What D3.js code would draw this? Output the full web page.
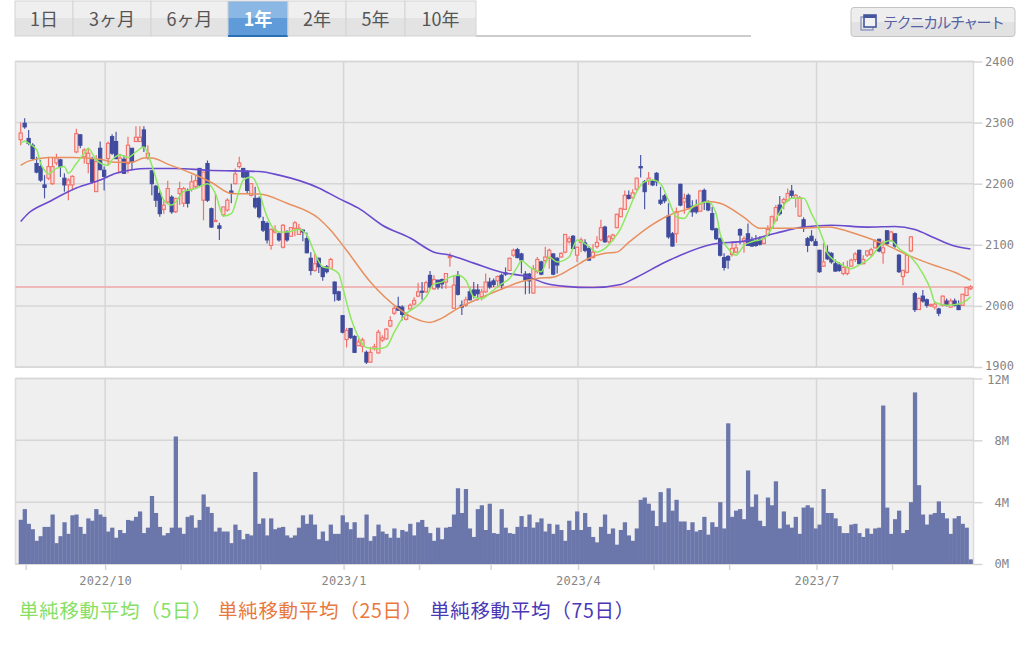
<!DOCTYPE html>
<html>
<head>
<meta charset="utf-8">
<script src="https://cdnjs.cloudflare.com/ajax/libs/d3/7.8.5/d3.min.js"></script>
<style>
html, body { margin: 0; padding: 0; background: #fff; }
svg { display: block; }
.jp { font-family: "Noto Sans CJK JP", sans-serif; }
.mono { font-family: "DejaVu Sans Mono", monospace; }
</style>
</head>
<body>
<div id="plot"></div>
<script>
// Tabs and labels
const tabLabels = ["1日", "3ヶ月", "6ヶ月", "1年", "2年", "5年", "10年"];
const activeTab = "1年";
const tabEdges = [15, 73, 151, 228, 288, 346, 405, 476];
const buttonLabel = "テクニカルチャート";

const priceTicks = [1900, 2000, 2100, 2200, 2300, 2400];
const volumeTicks = [0, 4, 8, 12];
const referencePrice = 2031;

// Trading day index of each month tick, and the labelled ones
const monthTicks = [1, 21, 40, 60, 81, 100, 118, 140, 159, 178, 200, 219];
const monthLabels = new Map([[21, "2022/10"], [81, "2023/1"], [140, "2023/4"], [200, "2023/7"]]);

const legendLabels = ["単純移動平均（5日）", "単純移動平均（25日）", "単純移動平均（75日）"];

// Daily candles, [open, high, low, close]
const candles = [
[2272,2300,2263,2283],[2299,2307,2290,2293],[2274,2288,2263,2266],[2263,2266,2239,2241],[2233,2244,2217,2219],
[2228,2239,2203,2206],[2198,2214,2176,2194],[2209,2244,2206,2228],[2200,2244,2198,2228],[2234,2249,2230,2242],
[2239,2241,2211,2228],[2209,2217,2187,2198],[2198,2209,2173,2206],[2198,2214,2189,2212],[2252,2290,2250,2282],
[2280,2281,2258,2263],[2244,2258,2233,2255],[2233,2259,2217,2250],[2241,2244,2200,2203],
[2187,2247,2187,2236],[2258,2269,2222,2223],[2222,2228,2189,2212],[2241,2269,2230,2266],[2277,2281,2247,2250],
[2269,2285,2240,2241],[2219,2249,2217,2242],[2240,2247,2216,2217],[2233,2277,2217,2263],[2258,2258,2222,2236],
[2269,2294,2269,2276],[2269,2294,2269,2276],[2288,2294,2252,2260],[2243,2263,2239,2250],[2221,2222,2181,2200],
[2196,2198,2162,2173],[2184,2189,2146,2151],[2158,2173,2151,2165],[2170,2205,2168,2192],[2178,2181,2151,2154],
[2154,2177,2152,2176],[2184,2203,2165,2192],[2168,2195,2162,2192],[2189,2192,2161,2168],
[2191,2214,2187,2203],[2195,2214,2192,2205],[2225,2225,2195,2198],[2173,2219,2140,2219],[2233,2238,2170,2173],
[2159,2161,2128,2129],[2138,2184,2138,2140],[2131,2136,2108,2127],[2149,2162,2146,2162],[2157,2176,2154,2173],
[2188,2200,2168,2184],[2200,2225,2199,2216],[2228,2244,2225,2234],[2225,2225,2209,2211],[2219,2222,2184,2189],
[2181,2201,2179,2200],[2176,2195,2159,2162],[2176,2179,2143,2146],[2138,2146,2121,2124],[2135,2138,2102,2108],
[2099,2127,2092,2125],[2121,2132,2118,2124],[2118,2121,2105,2108],[2096,2134,2094,2132],[2121,2124,2105,2108],
[2114,2129,2113,2128],[2127,2139,2114,2136],[2117,2134,2116,2127],[2124,2125,2106,2121],[2110,2120,2086,2087],
[2078,2088,2050,2058],[2058,2086,2056,2069],[2078,2079,2054,2064],[2063,2064,2041,2048],[2064,2067,2053,2056],
[2061,2079,2060,2076],[2039,2040,2007,2020],[2023,2025,2008,2010],[1984,1985,1955,1957],[1945,1964,1932,1960],
[1963,1964,1946,1948],[1950,1952,1923,1924],[1935,1946,1934,1941],[1934,1948,1924,1944],[1924,1927,1905,1908],
[1908,1933,1907,1924],[1930,1938,1927,1933],[1923,1961,1922,1957],[1944,1952,1941,1948],[1946,1964,1945,1962],
[1967,1983,1965,1976],[1988,2000,1985,1996],[1999,2015,1992,1993],[1998,2001,1976,1986],
[1978,1990,1976,1985],[1995,2004,1994,2001],[2003,2014,2001,2009],[2016,2038,2014,2023],[2024,2039,2010,2023],
[2023,2041,2021,2038],[2050,2057,2028,2031],[2028,2050,2026,2043],[2042,2043,2027,2031],[2043,2045,2028,2036],
[2039,2054,2028,2053],[2079,2087,2064,2081],[1996,2050,1996,2034],[2050,2057,2017,2019],[2001,2009,1985,1998],
[2001,2015,1998,2010],[2023,2030,2009,2010],[2026,2039,2012,2017],[2026,2036,2009,2020],[2015,2028,2009,2023],
[2023,2053,2021,2039],[2039,2046,2028,2031],[2041,2045,2031,2035],[2041,2050,2030,2048],[2050,2053,2026,2034],
[2054,2063,2049,2052],[2058,2079,2057,2078],[2083,2094,2080,2091],[2092,2095,2078,2079],[2085,2087,2053,2075],
[2052,2057,2019,2042],[2052,2054,2020,2041],[2021,2067,2020,2061],[2056,2080,2053,2076],[2072,2074,2050,2052],
[2074,2097,2067,2080],[2078,2094,2061,2091],[2085,2086,2050,2052],[2078,2080,2053,2067],[2080,2088,2079,2086],
[2088,2117,2086,2117],[2105,2114,2102,2110],[2114,2116,2093,2094],[2083,2097,2072,2096],[2104,2112,2088,2108],
[2103,2109,2088,2091],[2094,2097,2074,2075],[2079,2101,2078,2088],[2097,2114,2094,2104],[2108,2141,2106,2128],
[2129,2131,2103,2105],[2105,2116,2102,2113],[2110,2118,2106,2116],[2128,2151,2127,2150],[2146,2161,2145,2159],
[2158,2189,2158,2181],[2181,2189,2174,2176],[2177,2191,2176,2185],[2191,2210,2189,2209],[2228,2247,2210,2226],
[2203,2206,2158,2187],[2205,2219,2198,2209],[2205,2207,2196,2198],[2217,2219,2196,2203],[2173,2195,2165,2168],
[2180,2183,2168,2172],[2147,2168,2110,2113],[2118,2121,2097,2098],[2118,2161,2103,2154],[2199,2200,2163,2165],
[2170,2184,2151,2176],[2181,2184,2158,2161],[2163,2173,2146,2154],[2162,2174,2151,2154],[2155,2190,2154,2188],
[2189,2192,2157,2169],[2170,2173,2155,2157],[2151,2162,2123,2125],[2126,2128,2108,2110],[2110,2112,2081,2083],[2079,2086,2058,2063],
[2081,2083,2061,2075],[2084,2106,2081,2094],[2088,2102,2086,2095],[2125,2127,2101,2116],[2105,2114,2087,2110],
[2118,2135,2098,2099],[2107,2113,2097,2098],[2106,2116,2097,2099],[2109,2114,2099,2101],[2102,2114,2101,2110],
[2116,2132,2114,2125],[2128,2148,2127,2146],[2140,2165,2137,2161],[2165,2180,2148,2151],[2169,2177,2158,2174],
[2173,2192,2170,2184],[2188,2198,2176,2181],[2176,2183,2161,2181],[2147,2180,2146,2177],[2141,2145,2121,2128],
[2110,2113,2088,2099],[2114,2124,2105,2107],[2105,2110,2098,2099],[2091,2092,2054,2056],[2065,2103,2064,2072],
[2088,2099,2075,2077],[2086,2088,2069,2072],[2069,2076,2056,2057],[2067,2072,2056,2058],[2053,2072,2050,2063],
[2053,2074,2050,2063],[2065,2077,2064,2075],[2076,2088,2072,2085],[2091,2092,2068,2069],[2069,2083,2068,2076],
[2083,2091,2080,2090],[2084,2095,2080,2092],[2095,2109,2094,2106],[2109,2110,2088,2090],[2087,2107,2069,2095],
[2123,2124,2099,2102],[2107,2123,2105,2121],[2118,2119,2095,2098],[2083,2085,2054,2056],[2048,2059,2034,2058],
[2055,2085,2053,2083],[2090,2114,2088,2113],[2020,2023,1990,1994],[1994,2014,1994,2012],[2016,2026,2005,2008],
[2010,2012,1997,2001],[2000,2004,1998,2002],[1998,2008,1994,2003],[1995,1997,1983,1988],[2001,2017,1999,2016],[2008,2012,1999,2001],
[1998,2012,1997,2008],[2008,2012,1999,2001],[2001,2009,1993,1994],[2001,2020,2000,2019],[2017,2031,2016,2030],
[2028,2034,2026,2031]
];

// Daily volume, in millions of shares
const volumes = [
2.86,3.55,2.6,2.25,1.5,1.8,2.4,2.4,3.2,1.35,1.8,2.7,1.95,3.15,3.2,2.4,1.95,2.95,2.8,3.55,
3.2,3.05,2.1,2.35,1.7,2.2,2.0,2.85,2.8,3.05,3.4,2.0,2.35,4.4,3.3,2.4,1.85,2.0,2.35,
8.25,2.35,1.95,3.05,3.15,2.35,2.85,4.5,3.7,3.3,2.1,2.35,2.1,2.1,1.35,2.55,2.2,1.6,1.95,
1.85,5.95,2.6,2.95,1.85,2.95,2.25,2.35,2.4,1.85,1.7,1.85,2.35,3.15,2.6,3.2,2.55,1.6,2.1,1.5,
2.55,1.95,
1.95,3.15,2.7,2.25,2.7,1.7,1.7,3.2,1.5,1.8,2.55,2.1,1.95,1.7,2.3,1.7,2.2,2.1,2.6,1.85,
2.7,2.85,2.4,2.0,1.5,2.35,1.6,2.35,2.4,3.2,4.9,3.3,4.85,2.3,1.75,3.55,3.8,2.2,3.9,2.0,
1.95,3.55,2.35,2.0,1.95,2.4,3.1,2.4,3.2,2.35,2.7,2.95,2.1,2.6,1.95,2.55,2.2,1.5,2.8,2.2,
3.4,2.2,3.3,2.4,1.75,1.4,2.4,3.2,1.95,2.3,1.25,2.2,2.7,1.85,1.5,2.3,4.15,4.3,
3.9,3.45,2.45,4.65,2.7,4.9,3.45,4.15,
2.75,2.75,2.2,2.7,2.1,2.2,3.05,1.9,2.7,2.4,4.0,2.3,9.1,3.05,3.45,3.55,2.9,6.05,3.7,4.5,
2.8,2.45,4.3,3.8,5.35,2.3,3.4,2.55,2.35,3.05,1.95,3.65,3.8,3.65,2.3,2.55,4.85,3.3,3.3,
2.95,2.45,2.0,2.0,2.55,2.6,2.0,1.75,2.3,1.95,2.3,2.35,10.25,3.65,1.95,2.9,3.45,2.0,2.2,
4.0,11.1,5.1,3.2,2.55,3.2,3.3,4.05,3.3,2.95,1.95,2.95,3.1,2.6,2.35,0.3
];

// Moving averages at the listed trading days
const ma5Days = [0,1,2,4,5,6,7,9,11,12,14,16,17,19,22,23,25,27,29,31,33,35,36,38,39,41,44,47,49,51,53,55,56,58,60,61,63,65,67,70,72,74,76,78,80,81,83,85,87,90,92,94,96,97,100,102,104,106,108,110,112,114,116,119,121,123,125,126,128,131,133,135,138,140,143,145,147,149,151,153,155,157,159,161,163,165,167,169,171,173,175,176,178,180,182,184,187,189,191,194,197,199,201,202,203,206,209,211,214,216,219,221,224,227,229,230,233,236,238,239];
const ma5Values = [2266,2270,2266,2256,2233,2222,2216,2225,2228,2217,2233,2250,2258,2239,2230,2239,2247,2243,2252,2260,2230,2189,2173,2165,2170,2187,2192,2200,2184,2147,2151,2189,2206,2211,2189,2165,2132,2121,2121,2125,2116,2086,2064,2061,2053,2031,1982,1949,1932,1930,1933,1957,1979,1987,2001,2015,2036,2039,2047,2050,2042,2015,2012,2026,2036,2045,2064,2074,2064,2056,2080,2072,2080,2108,2097,2088,2094,2108,2127,2157,2187,2203,2206,2200,2173,2146,2143,2162,2168,2170,2151,2118,2094,2083,2099,2105,2110,2127,2154,2176,2176,2151,2124,2107,2086,2070,2061,2067,2080,2097,2107,2094,2080,2053,2026,2006,2001,2003,2009,2015];

const ma25Days = [0,2,7,13,20,24,28,31,33,37,43,48,53,60,67,75,78,82,88,95,99,103,106,110,116,122,126,130,134,139,143,147,150,153,158,163,169,173,176,182,186,195,203,211,218,224,230,235,239];
const ma25Values = [2230,2237,2243,2243,2240,2235,2235,2242,2242,2232,2217,2202,2184,2183,2168,2143,2124,2091,2039,1996,1980,1973,1980,1996,2014,2030,2040,2045,2047,2063,2078,2086,2088,2104,2129,2148,2161,2171,2168,2145,2127,2127,2129,2116,2099,2081,2066,2055,2042];

const ma75Days = [0,2,7,14,20,24,32,39,47,60,65,75,80,85,91,98,104,108,114,121,128,132,137,144,151,155,162,166,174,182,190,197,204,213,220,225,230,235,239];
const ma75Values = [2138,2152,2170,2193,2206,2217,2225,2225,2222,2220,2214,2193,2176,2160,2132,2111,2088,2083,2070,2055,2047,2037,2032,2030,2035,2047,2071,2083,2101,2106,2119,2129,2132,2129,2130,2125,2111,2098,2093];

// Constants
const width = 1024;
const height = 646;
const plotLeft = 15.5;
const plotRight = 973.5;
const red = "#f2716a";
const blue = "#3f4c9e";
const green = "#8de860";
const orange = "#e8905f";
const purple = "#6a4bcd";
const gridColour = "#d6d6d6";
const labelColour = "#858585";

// Create the canvas
var svg = d3.select("#plot").append("svg")
    .attr("width", width)
    .attr("height", height)
    .attr("viewBox", `0 0 ${width} ${height}`);

// Gradients for the tabs and the button, and the soft edge of the marks
var defs = svg.append("defs");
function addGradient(id, top, bottom) {
    var g = defs.append("linearGradient").attr("id", id).attr("x1", 0).attr("x2", 0).attr("y1", 0).attr("y2", 1);
    g.append("stop").attr("offset", "50%").attr("stop-color", top);
    g.append("stop").attr("offset", "50%").attr("stop-color", bottom);
}
addGradient("tabGrad", "#efefef", "#e3e3e3");
addGradient("activeGrad", "#8ab7e3", "#5f9bd8");
addGradient("btnGrad", "#eeeeee", "#e2e2e2");
defs.append("filter").attr("id", "soft").append("feGaussianBlur").attr("stdDeviation", 0.35);

// Tab strip
svg.append("rect").attr("x", 476).attr("y", 35).attr("width", 275).attr("height", 2).attr("fill", "#cccccc");
var tabs = svg.selectAll("g.tab").data(tabLabels).enter().append("g").attr("class", "tab");
tabs.append("rect")
    .attr("x", (d, i) => tabEdges[i])
    .attr("y", 1)
    .attr("width", (d, i) => tabEdges[i + 1] - tabEdges[i])
    .attr("height", 35)
    .attr("fill", d => d == activeTab ? "url(#activeGrad)" : "url(#tabGrad)")
    .attr("stroke", "#d4d4d4")
    .attr("stroke-width", 1);
tabs.filter(d => d == activeTab).append("rect")
    .attr("x", tabEdges[3]).attr("y", 35).attr("width", tabEdges[4] - tabEdges[3]).attr("height", 2).attr("fill", "#2b70b5");
tabs.append("text")
    .attr("class", "jp")
    .attr("x", (d, i) => (tabEdges[i] + tabEdges[i + 1]) / 2)
    .attr("y", 26)
    .attr("text-anchor", "middle")
    .attr("font-size", 18)
    .attr("font-weight", d => d == activeTab ? "bold" : "normal")
    .attr("fill", d => d == activeTab ? "#ffffff" : "#555555")
    .text(d => d);

// Chart button
svg.append("rect").attr("x", 851).attr("y", 7.5).attr("width", 164).attr("height", 29).attr("rx", 3)
    .attr("fill", "url(#btnGrad)").attr("stroke", "#c4c4c4");
svg.append("rect").attr("x", 861).attr("y", 17).attr("width", 12).attr("height", 13).attr("fill", "none").attr("stroke", "#7f8bc0").attr("stroke-width", 1.2);
svg.append("rect").attr("x", 864).attr("y", 15).attr("width", 12).attr("height", 12).attr("fill", "#f2f2f2").attr("stroke", "#46569d").attr("stroke-width", 1.6);
svg.append("rect").attr("x", 864).attr("y", 15).attr("width", 12).attr("height", 3).attr("fill", "#46569d");
svg.append("text").attr("class", "jp").attr("x", 883).attr("y", 28).attr("font-size", 15).attr("fill", "#5462a5")
    .attr("textLength", 122).text(buttonLabel);

// Scales
var xBand = d3.scaleBand().domain(d3.range(volumes.length)).range([18.7, 972.5]);
var xMid = i => xBand(i) + xBand.bandwidth() / 2;
var yPrice = d3.scaleLinear().domain([1900, 2400]).range([367, 61.5]);
var yVolume = d3.scaleLinear().domain([0, 12]).range([564, 378.5]);

// Panel background, grid and axis for a scale
function drawPanel(y, ticks, format, labelX, anchor, nudge) {
    var top = y.range()[1];
    var bottom = y.range()[0];
    svg.append("rect").attr("x", plotLeft).attr("y", top).attr("width", plotRight - plotLeft).attr("height", bottom - top)
        .attr("fill", "#efefef").attr("stroke", "#dcdcdc").attr("stroke-width", 1.5);
    svg.append("g").selectAll("line").data(ticks).enter().append("line")
        .attr("x1", plotLeft).attr("x2", plotRight)
        .attr("y1", d => y(d)).attr("y2", d => y(d))
        .attr("stroke", gridColour).attr("stroke-width", 1.5);
    svg.append("g").selectAll("line").data(Array.from(monthLabels.keys())).enter().append("line")
        .attr("x1", d => xMid(d) + 1).attr("x2", d => xMid(d) + 1)
        .attr("y1", top).attr("y2", bottom)
        .attr("stroke", gridColour).attr("stroke-width", 1.5);
    var axis = d3.axisRight(y).tickValues(ticks).tickFormat(format).tickSize(9).tickPadding(0);
    var g = svg.append("g").attr("transform", `translate(${plotRight},0)`).call(axis);
    g.select(".domain").remove();
    g.selectAll(".tick line").attr("stroke", gridColour).attr("stroke-width", 1.5);
    g.selectAll(".tick text")
        .attr("class", "mono")
        .attr("x", labelX - plotRight)
        .attr("y", nudge)
        .attr("text-anchor", anchor)
        .attr("font-size", 12)
        .attr("fill", labelColour);
}

// 1900 and 12M sit almost on top of each other, so pull them apart a little
drawPanel(yPrice, priceTicks, d => d, 985, "start", d => d == 1900 ? -1 : 0);
drawPanel(yVolume, volumeTicks, d => d + "M", 1009, "end", d => d == 12 ? 1 : 0);

// Reference line at the previous level
svg.append("line")
    .attr("x1", plotLeft).attr("x2", plotRight)
    .attr("y1", yPrice(referencePrice)).attr("y2", yPrice(referencePrice))
    .attr("stroke", "#f2a6a6").attr("stroke-width", 1.5);

// Candles
var candleG = svg.append("g").attr("filter", "url(#soft)");
candleG.selectAll("line").data(candles).enter().append("line")
    .attr("x1", (d, i) => xMid(i)).attr("x2", (d, i) => xMid(i))
    .attr("y1", d => yPrice(d[1])).attr("y2", d => yPrice(d[2]))
    .attr("stroke", d => d[3] >= d[0] ? red : "#4c59a6")
    .attr("stroke-width", 1.2);
candleG.selectAll("rect").data(candles).enter().append("rect")
    .attr("x", (d, i) => xMid(i) - 1.6)
    .attr("width", 3.2)
    .attr("y", d => yPrice(Math.max(d[0], d[3])))
    .attr("height", d => Math.max(1, Math.abs(yPrice(d[0]) - yPrice(d[3]))))
    .attr("fill", d => d[3] >= d[0] ? "#fbdcda" : blue)
    .attr("stroke", d => d[3] >= d[0] ? red : blue)
    .attr("stroke-width", 1.1);

// Moving average lines
var maLine = d3.line()
    .x(d => xMid(d[0]))
    .y(d => yPrice(d[1]))
    .curve(d3.curveMonotoneX);
function drawAverage(days, values, colour, lineWidth) {
    svg.append("path")
        .datum(days.map((day, i) => [day, values[i]]))
        .attr("d", maLine)
        .attr("fill", "none")
        .attr("stroke", colour)
        .attr("stroke-width", lineWidth)
        .attr("filter", "url(#soft)");
}
drawAverage(ma75Days, ma75Values, purple, 1.6);
drawAverage(ma25Days, ma25Values, orange, 1.5);
drawAverage(ma5Days, ma5Values, green, 1.5);

// Volume bars
svg.append("g").selectAll("rect").data(volumes).enter().append("rect")
    .attr("x", (d, i) => xBand(i))
    .attr("width", xBand.bandwidth() + 0.3)
    .attr("y", d => yVolume(d))
    .attr("height", d => yVolume(0) - yVolume(d))
    .attr("fill", "#6b76aa");

// Month axis under the volume panel
var xAxis = d3.axisBottom(d3.scaleLinear().domain([0, width]).range([0, width]))
    .tickValues(monthTicks.map(d => xMid(d) + 1))
    .tickSize(6)
    .tickPadding(6)
    .tickFormat((d, i) => monthLabels.get(monthTicks[i]) || "");
var xg = svg.append("g").attr("transform", "translate(0,564)").call(xAxis);
xg.select(".domain").remove();
xg.selectAll(".tick line").attr("stroke", gridColour).attr("stroke-width", 1.5);
xg.selectAll(".tick text")
    .attr("class", "mono")
    .attr("font-size", 12)
    .attr("letter-spacing", 0.3)
    .attr("fill", labelColour);

// Legend
const legendColours = ["#86e065", "#e8793d", "#4a37b5"];
const legendX = [19, 218, 430];
svg.append("g").selectAll("text").data(legendLabels).enter().append("text")
    .attr("class", "jp")
    .attr("x", (d, i) => legendX[i])
    .attr("y", 618)
    .attr("font-size", 19.5)
    .attr("letter-spacing", 0.7)
    .attr("fill", (d, i) => legendColours[i])
    .text(d => d);
</script>
</body>
</html>
